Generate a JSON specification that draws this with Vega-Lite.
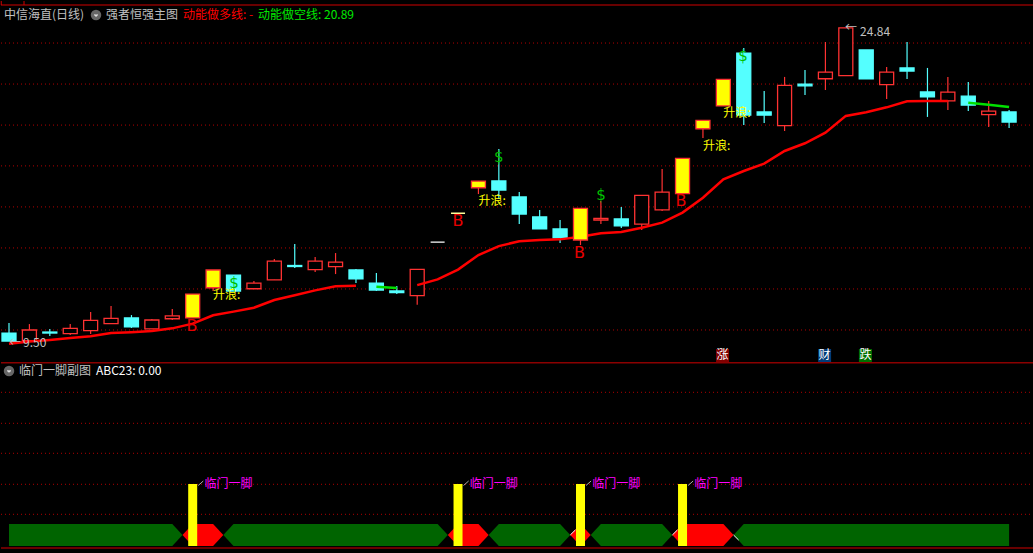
{"$schema":"https://vega.github.io/schema/vega-lite/v6.json","background":"#000000","padding":0,"spacing":0,"bounds":"flush","resolve":{"scale":{"fill":"independent","color":"independent","stroke":"independent"}},"config":{"view":{"stroke":null},"concat":{"spacing":0}},
"datasets":{
"candles":[
{"i":0,"o":9.89,"c":9.50,"h":10.38,"l":9.50,"k":"down"},
{"i":1,"o":9.52,"c":10.04,"h":10.33,"l":9.50,"k":"up"},
{"i":2,"o":9.94,"c":9.89,"h":10.09,"l":9.75,"k":"down"},
{"i":3,"o":9.86,"c":10.12,"h":10.33,"l":9.79,"k":"up"},
{"i":4,"o":10.01,"c":10.51,"h":10.92,"l":9.84,"k":"up"},
{"i":5,"o":10.35,"c":10.61,"h":11.22,"l":10.35,"k":"up"},
{"i":6,"o":10.63,"c":10.19,"h":10.77,"l":10.14,"k":"down"},
{"i":7,"o":10.09,"c":10.53,"h":10.58,"l":10.09,"k":"up"},
{"i":8,"o":10.59,"c":10.73,"h":11.07,"l":10.53,"k":"up"},
{"i":9,"o":10.63,"c":11.80,"h":11.80,"l":10.63,"k":"surge"},
{"i":10,"o":12.11,"c":12.98,"h":12.98,"l":11.95,"k":"surge"},
{"i":11,"o":12.73,"c":11.95,"h":12.73,"l":11.95,"k":"down"},
{"i":12,"o":12.06,"c":12.34,"h":12.44,"l":12.06,"k":"up"},
{"i":13,"o":12.50,"c":13.41,"h":13.52,"l":12.50,"k":"up"},
{"i":14,"o":13.20,"c":13.15,"h":14.25,"l":13.08,"k":"down"},
{"i":15,"o":13.00,"c":13.41,"h":13.62,"l":12.88,"k":"up"},
{"i":16,"o":13.14,"c":13.36,"h":13.81,"l":12.78,"k":"up"},
{"i":17,"o":12.98,"c":12.54,"h":13.03,"l":12.34,"k":"down"},
{"i":18,"o":12.34,"c":12.00,"h":12.83,"l":11.95,"k":"down"},
{"i":19,"o":11.95,"c":11.87,"h":12.19,"l":11.80,"k":"down"},
{"i":20,"o":11.72,"c":13.01,"h":13.01,"l":11.28,"k":"up"},
{"i":21,"o":14.34,"c":14.34,"h":14.34,"l":14.34,"k":"flat"},
{"i":22,"o":15.76,"c":15.76,"h":15.76,"l":15.76,"k":"flat2"},
{"i":23,"o":17.01,"c":17.33,"h":17.33,"l":16.70,"k":"surge"},
{"i":24,"o":17.34,"c":16.90,"h":18.91,"l":16.46,"k":"down"},
{"i":25,"o":16.56,"c":15.72,"h":16.80,"l":15.23,"k":"down"},
{"i":26,"o":15.58,"c":14.99,"h":15.92,"l":14.99,"k":"down"},
{"i":27,"o":14.99,"c":14.55,"h":15.43,"l":14.30,"k":"down"},
{"i":28,"o":14.45,"c":16.00,"h":16.00,"l":14.20,"k":"surge"},
{"i":29,"o":15.43,"c":15.51,"h":16.36,"l":15.23,"k":"up"},
{"i":30,"o":15.48,"c":15.14,"h":16.07,"l":15.04,"k":"down"},
{"i":31,"o":15.23,"c":16.64,"h":16.64,"l":14.94,"k":"up"},
{"i":32,"o":15.93,"c":16.79,"h":17.93,"l":15.87,"k":"up"},
{"i":33,"o":16.72,"c":18.45,"h":18.45,"l":16.72,"k":"surge"},
{"i":34,"o":19.90,"c":20.31,"h":20.31,"l":19.45,"k":"surge"},
{"i":35,"o":21.02,"c":22.32,"h":22.32,"l":21.02,"k":"surge"},
{"i":36,"o":23.61,"c":20.57,"h":23.86,"l":20.08,"k":"down"},
{"i":37,"o":20.72,"c":20.57,"h":21.75,"l":20.18,"k":"down"},
{"i":38,"o":20.05,"c":22.03,"h":22.44,"l":19.79,"k":"up"},
{"i":39,"o":22.09,"c":22.00,"h":22.78,"l":21.55,"k":"down"},
{"i":40,"o":22.35,"c":22.67,"h":24.15,"l":21.80,"k":"up"},
{"i":41,"o":22.50,"c":24.84,"h":24.84,"l":22.50,"k":"up"},
{"i":42,"o":23.76,"c":22.34,"h":23.76,"l":22.34,"k":"down"},
{"i":43,"o":22.06,"c":22.67,"h":22.93,"l":21.36,"k":"up"},
{"i":44,"o":22.88,"c":22.73,"h":24.15,"l":22.34,"k":"down"},
{"i":45,"o":21.70,"c":21.46,"h":22.88,"l":20.48,"k":"down"},
{"i":46,"o":21.27,"c":21.69,"h":22.44,"l":20.82,"k":"up"},
{"i":47,"o":21.50,"c":21.06,"h":22.19,"l":20.77,"k":"down"},
{"i":48,"o":20.59,"c":20.76,"h":21.26,"l":19.99,"k":"up"},
{"i":49,"o":20.72,"c":20.23,"h":20.82,"l":19.94,"k":"down"}],
"ma":[
{"i":0,"p":9.37,"s":"a","k":"long"},{"i":1,"p":9.47,"s":"a","k":"long"},{"i":2,"p":9.55,"s":"a","k":"long"},{"i":3,"p":9.65,"s":"a","k":"long"},{"i":4,"p":9.73,"s":"a","k":"long"},{"i":5,"p":9.89,"s":"a","k":"long"},{"i":6,"p":9.93,"s":"a","k":"long"},{"i":7,"p":9.99,"s":"a","k":"long"},{"i":8,"p":10.12,"s":"a","k":"long"},{"i":9,"p":10.35,"s":"a","k":"long"},{"i":10,"p":10.76,"s":"a","k":"long"},{"i":11,"p":10.94,"s":"a","k":"long"},{"i":12,"p":11.13,"s":"a","k":"long"},{"i":13,"p":11.51,"s":"a","k":"long"},{"i":14,"p":11.74,"s":"a","k":"long"},{"i":15,"p":11.98,"s":"a","k":"long"},{"i":16,"p":12.18,"s":"a","k":"long"},{"i":17,"p":12.21,"s":"a","k":"long"},
{"i":18,"p":12.16,"s":"b","k":"short"},{"i":19,"p":12.10,"s":"b","k":"short"},
{"i":20,"p":12.24,"s":"c","k":"long"},{"i":21,"p":12.52,"s":"c","k":"long"},{"i":22,"p":13.00,"s":"c","k":"long"},{"i":23,"p":13.71,"s":"c","k":"long"},{"i":24,"p":14.15,"s":"c","k":"long"},{"i":25,"p":14.39,"s":"c","k":"long"},{"i":26,"p":14.45,"s":"c","k":"long"},{"i":27,"p":14.48,"s":"c","k":"long"},{"i":28,"p":14.61,"s":"c","k":"long"},{"i":29,"p":14.78,"s":"c","k":"long"},{"i":30,"p":14.84,"s":"c","k":"long"},{"i":31,"p":15.05,"s":"c","k":"long"},{"i":32,"p":15.30,"s":"c","k":"long"},{"i":33,"p":15.79,"s":"c","k":"long"},{"i":34,"p":16.52,"s":"c","k":"long"},{"i":35,"p":17.42,"s":"c","k":"long"},{"i":36,"p":17.83,"s":"c","k":"long"},{"i":37,"p":18.19,"s":"c","k":"long"},{"i":38,"p":18.81,"s":"c","k":"long"},{"i":39,"p":19.19,"s":"c","k":"long"},{"i":40,"p":19.71,"s":"c","k":"long"},{"i":41,"p":20.53,"s":"c","k":"long"},{"i":42,"p":20.71,"s":"c","k":"long"},{"i":43,"p":20.95,"s":"c","k":"long"},{"i":44,"p":21.25,"s":"c","k":"long"},{"i":45,"p":21.26,"s":"c","k":"long"},{"i":46,"p":21.26,"s":"c","k":"long"},
{"i":47,"p":21.18,"s":"d","k":"short"},{"i":48,"p":21.08,"s":"d","k":"short"},{"i":49,"p":20.97,"s":"d","k":"short"}],
"grid":[{"p":24.10},{"p":22.09},{"p":20.08},{"p":18.08},{"p":16.07},{"p":14.06},{"p":12.05},{"p":10.04}],
"frame":[{"p":25.964},{"p":8.43}],
"tabs":[{"i":0.735,"a":26.16,"b":25.96},{"i":-0.38,"a":26.16,"b":25.96}],
"txt":[
{"i":-0.245,"p":25.47,"t":"中信海直(日线)","k":"gray"},
{"i":4.753,"p":25.47,"t":"强者恒强主图","k":"gray"},
{"i":8.525,"p":25.47,"t":"动能做多线: -","k":"red"},
{"i":12.2,"p":25.47,"t":"动能做空线: 20.89","k":"green"},
{"i":10,"p":11.75,"t":"升浪:","k":"yellow"},
{"i":23,"p":16.36,"t":"升浪:","k":"yellow"},
{"i":34,"p":19.06,"t":"升浪:","k":"yellow"},
{"i":35,"p":20.67,"t":"升浪:","k":"yellow"},
{"i":0,"p":9.40,"t":"←","k":"gray"},
{"i":0.686,"p":9.42,"t":"9.50","k":"gray"},
{"i":40.96,"p":24.84,"t":"←","k":"gray"},
{"i":41.7,"p":24.64,"t":"24.84","k":"gray"}],
"buy":[{"i":8.966,"p":10.235},{"i":22,"p":15.38},{"i":27.95,"p":13.81},{"i":32.93,"p":16.36}],
"sell":[{"i":11.02,"p":12.34},{"i":24,"p":18.52},{"i":29,"p":16.65},{"i":35.96,"p":23.46}],
"badge":[{"i":34.96,"p":8.79,"t":"涨","k":"rise"},{"i":39.96,"p":8.79,"t":"财","k":"fin"},{"i":41.96,"p":8.79,"t":"跌","k":"fall"}],
"icon1":[{"i":4.263,"p":25.47}],
"band":[
{"i":0,"a":0,"b":1,"s":"g1","k":"bear"},{"i":8,"a":0,"b":1,"s":"g1","k":"bear"},{"i":8.5,"a":0.5,"b":0.5,"s":"g1","k":"bear"},
{"i":8.5,"a":0.5,"b":0.5,"s":"r1","k":"bull"},{"i":9,"a":0,"b":1,"s":"r1","k":"bull"},{"i":10,"a":0,"b":1,"s":"r1","k":"bull"},{"i":10.5,"a":0.5,"b":0.5,"s":"r1","k":"bull"},
{"i":10.5,"a":0.5,"b":0.5,"s":"g2","k":"bear"},{"i":11,"a":0,"b":1,"s":"g2","k":"bear"},{"i":21,"a":0,"b":1,"s":"g2","k":"bear"},{"i":21.5,"a":0.5,"b":0.5,"s":"g2","k":"bear"},
{"i":21.5,"a":0.5,"b":0.5,"s":"r2","k":"bull"},{"i":22,"a":0,"b":1,"s":"r2","k":"bull"},{"i":23,"a":0,"b":1,"s":"r2","k":"bull"},{"i":23.5,"a":0.5,"b":0.5,"s":"r2","k":"bull"},
{"i":23.5,"a":0.5,"b":0.5,"s":"g3","k":"bear"},{"i":24,"a":0,"b":1,"s":"g3","k":"bear"},{"i":27,"a":0,"b":1,"s":"g3","k":"bear"},{"i":27.5,"a":0.5,"b":0.5,"s":"g3","k":"bear"},
{"i":27.5,"a":0.5,"b":0.5,"s":"r3","k":"bull"},{"i":28,"a":0,"b":1,"s":"r3","k":"bull"},{"i":28.5,"a":0.5,"b":0.5,"s":"r3","k":"bull"},
{"i":28.5,"a":0.5,"b":0.5,"s":"g4","k":"bear"},{"i":29,"a":0,"b":1,"s":"g4","k":"bear"},{"i":32,"a":0,"b":1,"s":"g4","k":"bear"},{"i":32.5,"a":0.5,"b":0.5,"s":"g4","k":"bear"},
{"i":32.5,"a":0.5,"b":0.5,"s":"r4","k":"bull"},{"i":33,"a":0,"b":1,"s":"r4","k":"bull"},{"i":35,"a":0,"b":1,"s":"r4","k":"bull"},{"i":35.5,"a":0.5,"b":0.5,"s":"r4","k":"bull"},
{"i":35.5,"a":0.5,"b":0.5,"s":"g5","k":"bear"},{"i":36,"a":0,"b":1,"s":"g5","k":"bear"},{"i":49,"a":0,"b":1,"s":"g5","k":"bear"}],
"vgrid":[{"v":6.986},{"v":5.577},{"v":4.214},{"v":2.805},{"v":1.441}],
"sig":[{"i":9,"v":2.818,"z":0},{"i":22,"v":2.818,"z":0},{"i":28,"v":2.818,"z":0},{"i":33,"v":2.818,"z":0}],
"sigt":[{"i":9.58,"v":2.8,"t":"临门一脚"},{"i":22.58,"v":2.8,"t":"临门一脚"},{"i":28.58,"v":2.8,"t":"临门一脚"},{"i":33.58,"v":2.8,"t":"临门一脚"}],
"tick":[{"i":9.27,"j":9.52,"v":2.75,"w":2.955},{"i":22.27,"j":22.52,"v":2.75,"w":2.955},{"i":28.27,"j":28.52,"v":2.75,"w":2.955},{"i":33.27,"j":33.52,"v":2.75,"w":2.955}],
"spark":[{"i":27.5,"j":27.75,"v":0.5,"w":0.73},{"i":32.5,"j":32.75,"v":0.5,"w":0.73},{"i":35.5,"j":35.75,"v":0.5,"w":0.27}],
"lowtxt":[{"i":0.49,"v":7.955,"t":"临门一脚副图","k":"gray"},{"i":4.263,"v":7.955,"t":"ABC23: 0.00","k":"white"}],
"icon2":[{"i":0,"v":7.955}],
"sep":[{"v":-0.091}]
},
"vconcat":[
{"width":1033,"height":362,"layer":[
{"data":{"name":"grid"},"mark":{"type":"rule","color":"#b00000","strokeWidth":1,"strokeDash":[1,3]},"encoding":{"y":{"field":"p","type":"quantitative","scale":{"domain":[8.422,26.16],"nice":false,"zero":false},"axis":null}}},
{"data":{"name":"frame"},"mark":{"type":"rule","color":"#d00000","strokeWidth":1},"encoding":{"y":{"field":"p","type":"quantitative","scale":{"domain":[8.422,26.16],"nice":false,"zero":false},"axis":null}}},
{"data":{"name":"tabs"},"mark":{"type":"rule","color":"#d00000","strokeWidth":1},"encoding":{"x":{"field":"i","type":"quantitative","scale":{"domain":[-0.392,50.22],"nice":false,"zero":false,"padding":0},"axis":null},"y":{"field":"a","type":"quantitative","scale":{"domain":[8.422,26.16],"nice":false,"zero":false},"axis":null},"y2":{"field":"b"}}},
{"data":{"name":"candles"},"mark":{"type":"rule","strokeWidth":1.2},"encoding":{"x":{"field":"i","type":"quantitative","scale":{"domain":[-0.392,50.22],"nice":false,"zero":false,"padding":0},"axis":null},"y":{"field":"h","type":"quantitative","scale":{"domain":[8.422,26.16],"nice":false,"zero":false},"axis":null},"y2":{"field":"l"},"stroke":{"field":"k","type":"nominal","legend":null,"scale":{"domain":["up","down","surge","flat","flat2","long","short"],"range":["#ff3232","#54ffff","#ff3232","#ffffff","#ffff99","#ff0000","#00e000"]}}}},
{"data":{"name":"candles"},"transform":[{"filter":"datum.k!='surge'"}],"mark":{"type":"bar","size":14,"strokeWidth":1.3},"encoding":{"x":{"field":"i","type":"quantitative","scale":{"domain":[-0.392,50.22],"nice":false,"zero":false,"padding":0},"axis":null},"y":{"field":"o","type":"quantitative","scale":{"domain":[8.422,26.16],"nice":false,"zero":false},"axis":null},"y2":{"field":"c"},"fill":{"field":"k","type":"nominal","legend":null,"scale":{"domain":["up","down","surge","flat","flat2","rise","fin","fall"],"range":["#000000","#54ffff","#ffff00","#ffffff","#ffff99","#800000","#003c78","#007000"]}},"stroke":{"field":"k","type":"nominal","legend":null,"scale":{"domain":["up","down","surge","flat","flat2","long","short"],"range":["#ff3232","#54ffff","#ff3232","#ffffff","#ffff99","#ff0000","#00e000"]}}}},
{"data":{"name":"ma"},"mark":{"type":"line","strokeWidth":2.5,"interpolate":"linear"},"encoding":{"x":{"field":"i","type":"quantitative","scale":{"domain":[-0.392,50.22],"nice":false,"zero":false,"padding":0},"axis":null},"y":{"field":"p","type":"quantitative","scale":{"domain":[8.422,26.16],"nice":false,"zero":false},"axis":null},"detail":{"field":"s"},"stroke":{"field":"k","type":"nominal","legend":null,"scale":{"domain":["up","down","surge","flat","flat2","long","short"],"range":["#ff3232","#54ffff","#ff3232","#ffffff","#ffff99","#ff0000","#00e000"]}}}},
{"data":{"name":"candles"},"transform":[{"filter":"datum.k=='surge'"}],"mark":{"type":"bar","size":14,"strokeWidth":1.3},"encoding":{"x":{"field":"i","type":"quantitative","scale":{"domain":[-0.392,50.22],"nice":false,"zero":false,"padding":0},"axis":null},"y":{"field":"o","type":"quantitative","scale":{"domain":[8.422,26.16],"nice":false,"zero":false},"axis":null},"y2":{"field":"c"},"fill":{"field":"k","type":"nominal","legend":null,"scale":{"domain":["up","down","surge","flat","flat2","rise","fin","fall"],"range":["#000000","#54ffff","#ffff00","#ffffff","#ffff99","#800000","#003c78","#007000"]}},"stroke":{"field":"k","type":"nominal","legend":null,"scale":{"domain":["up","down","surge","flat","flat2","long","short"],"range":["#ff3232","#54ffff","#ff3232","#ffffff","#ffff99","#ff0000","#00e000"]}}}},
{"data":{"name":"badge"},"mark":{"type":"point","shape":"square","filled":true,"size":169,"opacity":1},"encoding":{"x":{"field":"i","type":"quantitative","scale":{"domain":[-0.392,50.22],"nice":false,"zero":false,"padding":0},"axis":null},"y":{"field":"p","type":"quantitative","scale":{"domain":[8.422,26.16],"nice":false,"zero":false},"axis":null},"fill":{"field":"k","type":"nominal","legend":null,"scale":{"domain":["up","down","surge","flat","flat2","rise","fin","fall"],"range":["#000000","#54ffff","#ffff00","#ffffff","#ffff99","#800000","#003c78","#007000"]}}}},
{"data":{"name":"badge"},"mark":{"type":"text","font":"Noto Sans CJK SC","fontSize":12,"color":"#ffffff","align":"center","baseline":"middle"},"encoding":{"x":{"field":"i","type":"quantitative","scale":{"domain":[-0.392,50.22],"nice":false,"zero":false,"padding":0},"axis":null},"y":{"field":"p","type":"quantitative","scale":{"domain":[8.422,26.16],"nice":false,"zero":false},"axis":null},"text":{"field":"t"}}},
{"data":{"name":"txt"},"mark":{"type":"text","font":"Noto Sans CJK SC","fontSize":12,"align":"left","baseline":"middle"},"encoding":{"x":{"field":"i","type":"quantitative","scale":{"domain":[-0.392,50.22],"nice":false,"zero":false,"padding":0},"axis":null},"y":{"field":"p","type":"quantitative","scale":{"domain":[8.422,26.16],"nice":false,"zero":false},"axis":null},"text":{"field":"t"},"color":{"field":"k","type":"nominal","legend":null,"scale":{"domain":["gray","red","green","yellow"],"range":["#c0c0c0","#ff0000","#00e800","#ffff00"]}}}},
{"data":{"name":"buy"},"mark":{"type":"text","text":"B","font":"DejaVu Sans","fontSize":16,"color":"#e60000","align":"center","baseline":"middle"},"encoding":{"x":{"field":"i","type":"quantitative","scale":{"domain":[-0.392,50.22],"nice":false,"zero":false,"padding":0},"axis":null},"y":{"field":"p","type":"quantitative","scale":{"domain":[8.422,26.16],"nice":false,"zero":false},"axis":null}}},
{"data":{"name":"sell"},"mark":{"type":"text","text":"$","font":"DejaVu Sans","fontSize":15,"color":"#00c000","align":"center","baseline":"middle"},"encoding":{"x":{"field":"i","type":"quantitative","scale":{"domain":[-0.392,50.22],"nice":false,"zero":false,"padding":0},"axis":null},"y":{"field":"p","type":"quantitative","scale":{"domain":[8.422,26.16],"nice":false,"zero":false},"axis":null}}},
{"data":{"name":"icon1"},"mark":{"type":"point","shape":"circle","filled":true,"size":110,"color":"#666666","opacity":1},"encoding":{"x":{"field":"i","type":"quantitative","scale":{"domain":[-0.392,50.22],"nice":false,"zero":false,"padding":0},"axis":null},"y":{"field":"p","type":"quantitative","scale":{"domain":[8.422,26.16],"nice":false,"zero":false},"axis":null}}},
{"data":{"name":"icon1"},"mark":{"type":"point","shape":"M-0.8,-0.3L0,0.4L0.8,-0.3","filled":false,"size":16,"color":"#dddddd","strokeWidth":1.5,"opacity":1},"encoding":{"x":{"field":"i","type":"quantitative","scale":{"domain":[-0.392,50.22],"nice":false,"zero":false,"padding":0},"axis":null},"y":{"field":"p","type":"quantitative","scale":{"domain":[8.422,26.16],"nice":false,"zero":false},"axis":null}}}
]},
{"width":1033,"height":190,"layer":[
{"data":{"name":"vgrid"},"mark":{"type":"rule","color":"#b00000","strokeWidth":1,"strokeDash":[1,3]},"encoding":{"y":{"field":"v","type":"quantitative","scale":{"domain":[-0.318,8.318],"nice":false,"zero":false},"axis":null}}},
{"data":{"name":"sep"},"mark":{"type":"rule","color":"#d00000","strokeWidth":1},"encoding":{"y":{"field":"v","type":"quantitative","scale":{"domain":[-0.318,8.318],"nice":false,"zero":false},"axis":null}}},
{"data":{"name":"band"},"mark":{"type":"area","interpolate":"linear","opacity":1},"encoding":{"x":{"field":"i","type":"quantitative","scale":{"domain":[-0.392,50.22],"nice":false,"zero":false,"padding":0},"axis":null},"y":{"field":"a","type":"quantitative","scale":{"domain":[-0.318,8.318],"nice":false,"zero":false},"axis":null},"y2":{"field":"b"},"detail":{"field":"s"},"fill":{"field":"k","type":"nominal","legend":null,"scale":{"domain":["bear","bull"],"range":["#006400","#ff0000"]}}}},
{"data":{"name":"spark"},"mark":{"type":"rule","color":"#ffffff","strokeWidth":1},"encoding":{"x":{"field":"i","type":"quantitative","scale":{"domain":[-0.392,50.22],"nice":false,"zero":false,"padding":0},"axis":null},"x2":{"field":"j"},"y":{"field":"v","type":"quantitative","scale":{"domain":[-0.318,8.318],"nice":false,"zero":false},"axis":null},"y2":{"field":"w"}}},
{"data":{"name":"sig"},"mark":{"type":"bar","size":9,"color":"#ffff00"},"encoding":{"x":{"field":"i","type":"quantitative","scale":{"domain":[-0.392,50.22],"nice":false,"zero":false,"padding":0},"axis":null},"y":{"field":"v","type":"quantitative","scale":{"domain":[-0.318,8.318],"nice":false,"zero":false},"axis":null},"y2":{"field":"z"}}},
{"data":{"name":"tick"},"mark":{"type":"rule","color":"#aaaaaa","strokeWidth":1},"encoding":{"x":{"field":"i","type":"quantitative","scale":{"domain":[-0.392,50.22],"nice":false,"zero":false,"padding":0},"axis":null},"x2":{"field":"j"},"y":{"field":"v","type":"quantitative","scale":{"domain":[-0.318,8.318],"nice":false,"zero":false},"axis":null},"y2":{"field":"w"}}},
{"data":{"name":"sigt"},"mark":{"type":"text","font":"Noto Sans CJK SC","fontSize":12,"color":"#ff00ff","align":"left","baseline":"middle"},"encoding":{"x":{"field":"i","type":"quantitative","scale":{"domain":[-0.392,50.22],"nice":false,"zero":false,"padding":0},"axis":null},"y":{"field":"v","type":"quantitative","scale":{"domain":[-0.318,8.318],"nice":false,"zero":false},"axis":null},"text":{"field":"t"}}},
{"data":{"name":"lowtxt"},"mark":{"type":"text","font":"Noto Sans CJK SC","fontSize":12,"align":"left","baseline":"middle"},"encoding":{"x":{"field":"i","type":"quantitative","scale":{"domain":[-0.392,50.22],"nice":false,"zero":false,"padding":0},"axis":null},"y":{"field":"v","type":"quantitative","scale":{"domain":[-0.318,8.318],"nice":false,"zero":false},"axis":null},"text":{"field":"t"},"color":{"field":"k","type":"nominal","legend":null,"scale":{"domain":["gray","white"],"range":["#c0c0c0","#ffffff"]}}}},
{"data":{"name":"icon2"},"mark":{"type":"point","shape":"circle","filled":true,"size":110,"color":"#666666","opacity":1},"encoding":{"x":{"field":"i","type":"quantitative","scale":{"domain":[-0.392,50.22],"nice":false,"zero":false,"padding":0},"axis":null},"y":{"field":"v","type":"quantitative","scale":{"domain":[-0.318,8.318],"nice":false,"zero":false},"axis":null}}},
{"data":{"name":"icon2"},"mark":{"type":"point","shape":"M-0.8,-0.3L0,0.4L0.8,-0.3","filled":false,"size":16,"color":"#dddddd","strokeWidth":1.5,"opacity":1},"encoding":{"x":{"field":"i","type":"quantitative","scale":{"domain":[-0.392,50.22],"nice":false,"zero":false,"padding":0},"axis":null},"y":{"field":"v","type":"quantitative","scale":{"domain":[-0.318,8.318],"nice":false,"zero":false},"axis":null}}}
]}
]}
